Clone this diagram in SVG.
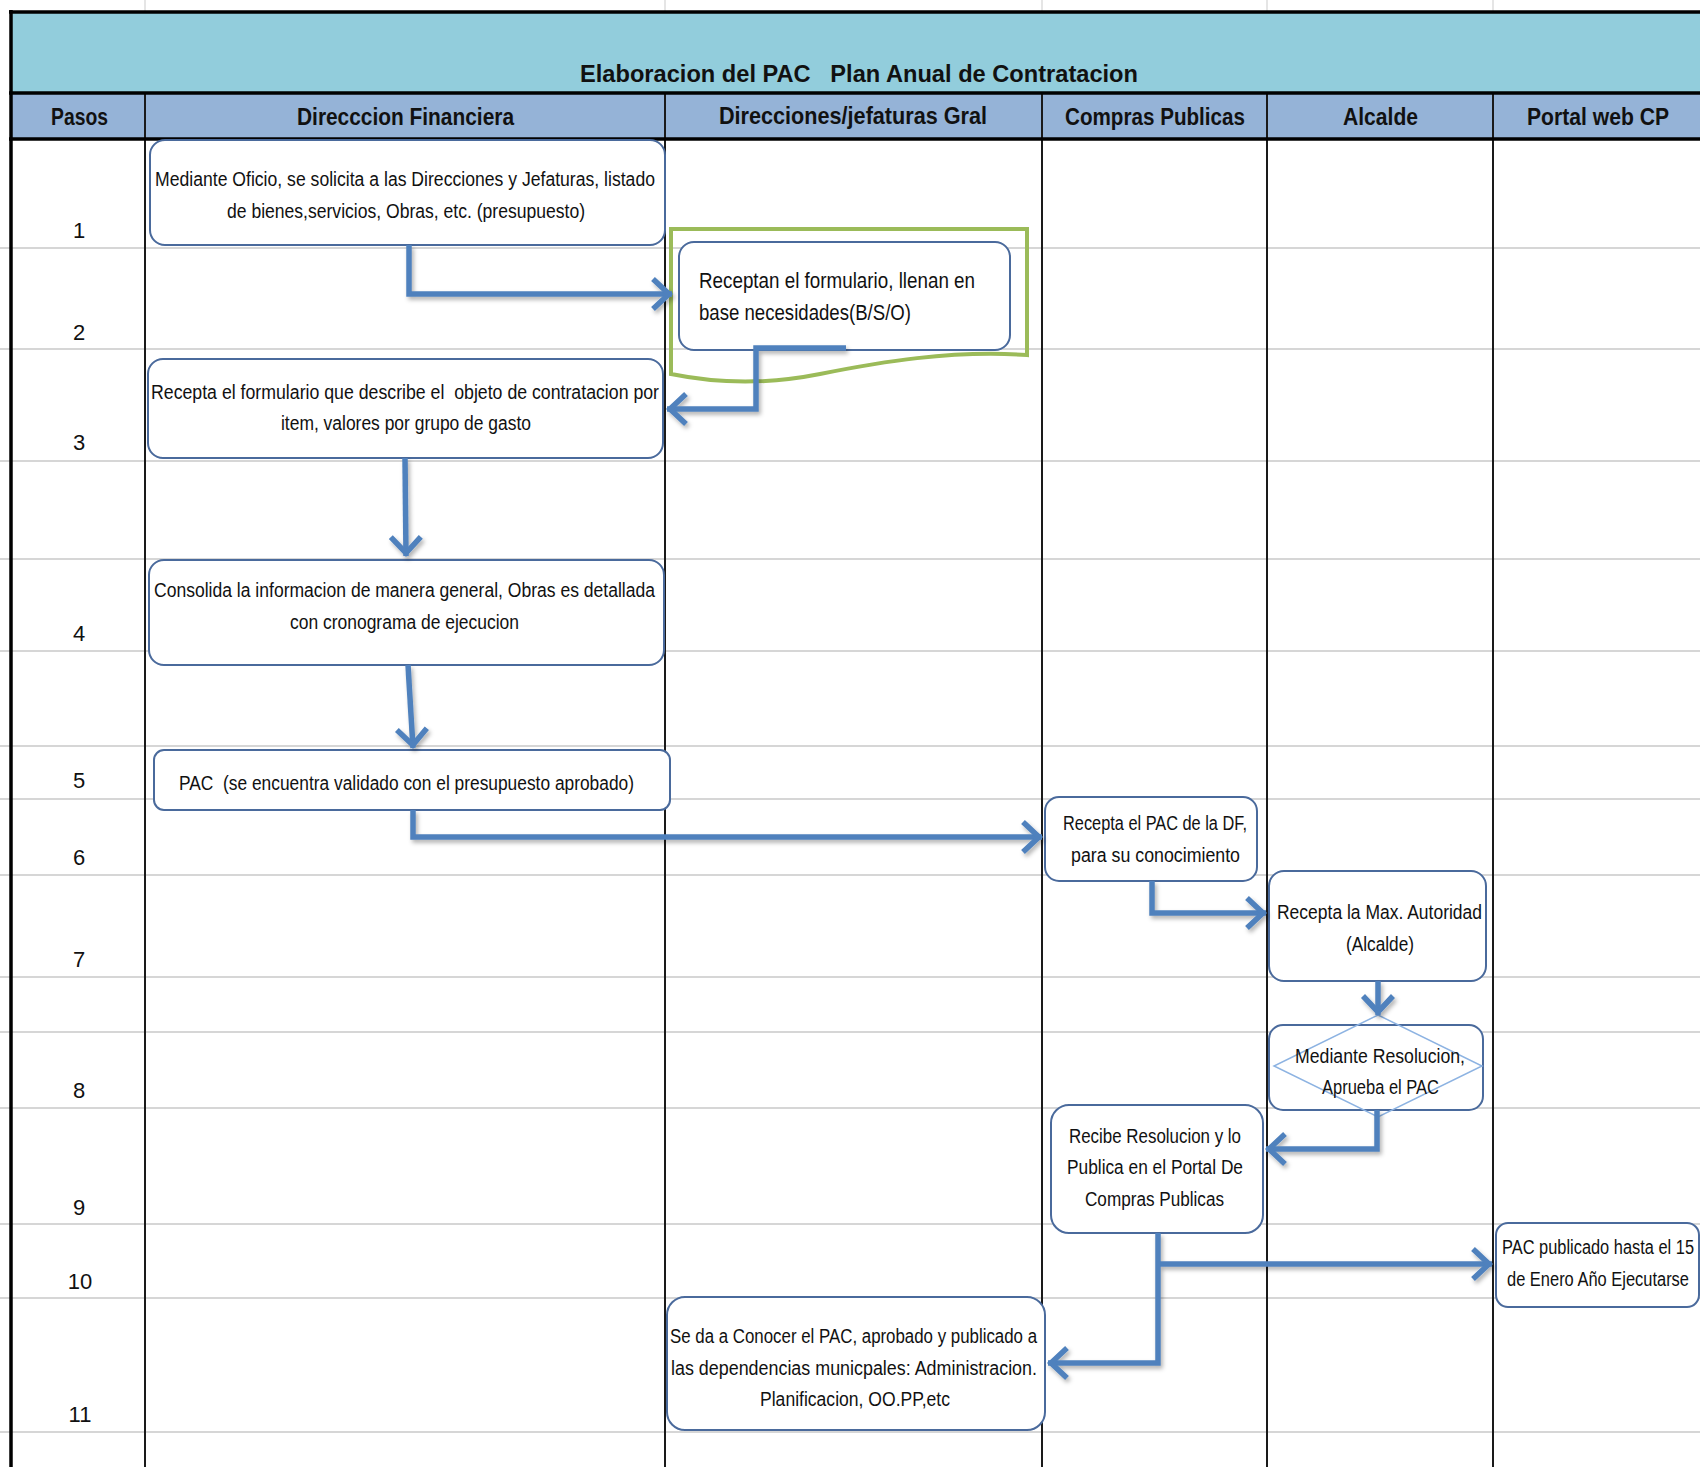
<svg xmlns="http://www.w3.org/2000/svg" width="1700" height="1467" viewBox="0 0 1700 1467">
<style>
.grid{stroke:#D6D6D6;stroke-width:2}
.vgrid{stroke:#DDDDDD;stroke-width:1.5}
.col{stroke:#1a1a1a;stroke-width:2}
.thick{stroke:#000;stroke-width:3.5}
.hdr{font-family:"Liberation Sans",Arial,sans-serif;font-weight:bold;font-size:24px;fill:#111;text-anchor:middle}
.num{font-family:"Liberation Sans",Arial,sans-serif;font-size:22px;fill:#111;text-anchor:middle}
.box{fill:#fff;stroke:#4A6A9C;stroke-width:2}
.t{font-family:"Liberation Sans",Arial,sans-serif;font-size:20px;fill:#111;text-anchor:middle}
.tl{font-family:"Liberation Sans",Arial,sans-serif;font-size:22px;fill:#111}
.conn{fill:none;stroke:#4F81BD;stroke-width:5.5;stroke-linejoin:miter}
</style>
<defs>
<marker id="ah" markerUnits="userSpaceOnUse" viewBox="-24 -20 30 40" refX="3" refY="0" markerWidth="30" markerHeight="40" orient="auto" overflow="visible">
<path d="M-16,-15 L0,0 L-16,15" fill="none" stroke="#4F81BD" stroke-width="5.5" stroke-linejoin="miter"/>
</marker>
<filter id="sh" x="-10%" y="-10%" width="130%" height="130%">
<feDropShadow dx="2" dy="3" stdDeviation="2" flood-color="#000" flood-opacity="0.3"/>
</filter>
</defs>
<rect x="0" y="0" width="1700" height="1467" fill="#fff"/>
<g id="gridlines">
<line class="vgrid" x1="145" y1="0" x2="145" y2="12"/>
<line class="vgrid" x1="665" y1="0" x2="665" y2="12"/>
<line class="vgrid" x1="1042" y1="0" x2="1042" y2="12"/>
<line class="vgrid" x1="1267" y1="0" x2="1267" y2="12"/>
<line class="vgrid" x1="1493" y1="0" x2="1493" y2="12"/>
<line class="grid" x1="0" y1="248" x2="1700" y2="248"/>
<line class="grid" x1="0" y1="349" x2="1700" y2="349"/>
<line class="grid" x1="0" y1="461" x2="1700" y2="461"/>
<line class="grid" x1="0" y1="559" x2="1700" y2="559"/>
<line class="grid" x1="0" y1="651" x2="1700" y2="651"/>
<line class="grid" x1="0" y1="746" x2="1700" y2="746"/>
<line class="grid" x1="0" y1="799" x2="1700" y2="799"/>
<line class="grid" x1="0" y1="875" x2="1700" y2="875"/>
<line class="grid" x1="0" y1="977" x2="1700" y2="977"/>
<line class="grid" x1="0" y1="1032" x2="1700" y2="1032"/>
<line class="grid" x1="0" y1="1108" x2="1700" y2="1108"/>
<line class="grid" x1="0" y1="1224" x2="1700" y2="1224"/>
<line class="grid" x1="0" y1="1298" x2="1700" y2="1298"/>
<line class="grid" x1="0" y1="1432" x2="1700" y2="1432"/>
</g>
<g id="table">
<rect x="11" y="12" width="1689" height="81" fill="#92CDDC"/>
<rect x="11" y="93" width="1689" height="46" fill="#95B3D7"/>
<line class="col" x1="145" y1="93" x2="145" y2="1467"/>
<line class="col" x1="665" y1="93" x2="665" y2="1467"/>
<line class="col" x1="1042" y1="93" x2="1042" y2="1467"/>
<line class="col" x1="1267" y1="93" x2="1267" y2="1467"/>
<line class="col" x1="1493" y1="93" x2="1493" y2="1467"/>
<line class="thick" x1="9" y1="12" x2="1700" y2="12"/>
<line class="thick" x1="9" y1="93" x2="1700" y2="93"/>
<line class="thick" x1="9" y1="139" x2="1700" y2="139"/>
<line class="thick" x1="11" y1="10" x2="11" y2="1467"/>
<text class="hdr" x="859" y="82" textLength="558" lengthAdjust="spacingAndGlyphs" xml:space="preserve">Elaboracion del PAC   Plan Anual de Contratacion</text>
<text class="hdr" x="79.5" y="125" textLength="57" lengthAdjust="spacingAndGlyphs">Pasos</text>
<text class="hdr" x="405.5" y="125" textLength="217" lengthAdjust="spacingAndGlyphs">Direcccion Financiera</text>
<text class="hdr" x="853" y="124" textLength="268" lengthAdjust="spacingAndGlyphs">Direcciones/jefaturas Gral</text>
<text class="hdr" x="1155" y="125" textLength="180" lengthAdjust="spacingAndGlyphs">Compras Publicas</text>
<text class="hdr" x="1380.5" y="125" textLength="75" lengthAdjust="spacingAndGlyphs">Alcalde</text>
<text class="hdr" x="1598" y="125" textLength="142" lengthAdjust="spacingAndGlyphs">Portal web CP</text>
<text class="num" x="79" y="238">1</text>
<text class="num" x="79" y="340">2</text>
<text class="num" x="79" y="450">3</text>
<text class="num" x="79" y="641">4</text>
<text class="num" x="79" y="788">5</text>
<text class="num" x="79" y="865">6</text>
<text class="num" x="79" y="967">7</text>
<text class="num" x="79" y="1098">8</text>
<text class="num" x="79" y="1215">9</text>
<text class="num" x="80" y="1289">10</text>
<text class="num" x="80" y="1422">11</text>
</g>
<g id="node1">
<rect class="box" x="150" y="140" width="515" height="105" rx="15"/>
<text class="t" x="405" y="186" textLength="500" lengthAdjust="spacingAndGlyphs">Mediante Oficio, se solicita a las Direcciones y Jefaturas, listado</text>
<text class="t" x="406" y="218" textLength="358" lengthAdjust="spacingAndGlyphs">de bienes,servicios, Obras, etc. (presupuesto)</text>
</g>
<g id="node2">
<path d="M671,229 H1027 V355 C950,350 880,362 820,374 C770,384 720,384 671,374 Z" fill="none" stroke="#9BBB59" stroke-width="4"/>
<rect class="box" x="679" y="242" width="331" height="108" rx="15"/>
<text class="tl" x="699" y="288" textLength="276" lengthAdjust="spacingAndGlyphs">Receptan el formulario, llenan en</text>
<text class="tl" x="699" y="320" textLength="212" lengthAdjust="spacingAndGlyphs">base necesidades(B/S/O)</text>
</g>
<g id="node3">
<rect class="box" x="148" y="359" width="515" height="99" rx="15"/>
<text class="t" x="405" y="399" textLength="508" lengthAdjust="spacingAndGlyphs" xml:space="preserve">Recepta el formulario que describe el  objeto de contratacion por</text>
<text class="t" x="406" y="430" textLength="250" lengthAdjust="spacingAndGlyphs">item, valores por grupo de gasto</text>
</g>
<g id="node4">
<rect class="box" x="149" y="560" width="515" height="105" rx="15"/>
<text class="t" x="404.5" y="597" textLength="501" lengthAdjust="spacingAndGlyphs">Consolida la informacion de manera general, Obras es detallada</text>
<text class="t" x="404.5" y="629" textLength="229" lengthAdjust="spacingAndGlyphs">con cronograma de ejecucion</text>
</g>
<g id="node5">
<rect class="box" x="154" y="750" width="516" height="60" rx="10"/>
<text class="t" x="406.5" y="790" textLength="455" lengthAdjust="spacingAndGlyphs" xml:space="preserve">PAC  (se encuentra validado con el presupuesto aprobado)</text>
</g>
<g id="node6">
<rect class="box" x="1045" y="797" width="212" height="84" rx="14"/>
<text class="t" x="1155" y="830" textLength="184" lengthAdjust="spacingAndGlyphs">Recepta el PAC de la DF,</text>
<text class="t" x="1155.5" y="862" textLength="169" lengthAdjust="spacingAndGlyphs">para su conocimiento</text>
</g>
<g id="node7">
<rect class="box" x="1269" y="871" width="217" height="110" rx="15"/>
<text class="t" x="1379.5" y="919" textLength="205" lengthAdjust="spacingAndGlyphs">Recepta la Max. Autoridad</text>
<text class="t" x="1380" y="951" textLength="68" lengthAdjust="spacingAndGlyphs">(Alcalde)</text>
</g>
<g id="node8">
<rect class="box" x="1269" y="1025" width="214" height="85" rx="14"/>
<path d="M1378,1015 L1482,1066 L1378,1117 L1274,1066 Z" fill="none" stroke="#8DB3E2" stroke-width="1.5"/>
<text class="t" x="1380" y="1063" textLength="170" lengthAdjust="spacingAndGlyphs">Mediante Resolucion,</text>
<text class="t" x="1380.5" y="1094" textLength="117" lengthAdjust="spacingAndGlyphs">Aprueba el PAC</text>
</g>
<g id="node9">
<rect class="box" x="1051" y="1105" width="212" height="128" rx="18"/>
<text class="t" x="1155" y="1143" textLength="172" lengthAdjust="spacingAndGlyphs">Recibe Resolucion y lo</text>
<text class="t" x="1155" y="1174" textLength="176" lengthAdjust="spacingAndGlyphs">Publica en el Portal De</text>
<text class="t" x="1154.5" y="1206" textLength="139" lengthAdjust="spacingAndGlyphs">Compras Publicas</text>
</g>
<g id="node10">
<rect class="box" x="1496" y="1223" width="203" height="84" rx="12"/>
<text class="t" x="1598" y="1254" textLength="192" lengthAdjust="spacingAndGlyphs">PAC publicado hasta el 15</text>
<text class="t" x="1598" y="1286" textLength="182" lengthAdjust="spacingAndGlyphs">de Enero Año Ejecutarse</text>
</g>
<g id="node11">
<rect class="box" x="667" y="1297" width="378" height="133" rx="18"/>
<text class="t" x="853.5" y="1343" textLength="367" lengthAdjust="spacingAndGlyphs">Se da a Conocer el PAC, aprobado y publicado a</text>
<text class="t" x="854" y="1375" textLength="366" lengthAdjust="spacingAndGlyphs">las dependencias municpales: Administracion.</text>
<text class="t" x="855" y="1406" textLength="190" lengthAdjust="spacingAndGlyphs">Planificacion, OO.PP,etc</text>
</g>
<g id="connectors" filter="url(#sh)">
<path class="conn" d="M409,245 V294 H672" marker-end="url(#ah)"/>
<path class="conn" d="M846,348 H756 V409 H667" marker-end="url(#ah)"/>
<path class="conn" d="M405,458 L406,556" marker-end="url(#ah)"/>
<path class="conn" d="M408,665 L413,748" marker-end="url(#ah)"/>
<path class="conn" d="M413,810 V837 H1042" marker-end="url(#ah)"/>
<path class="conn" d="M1152,881 V913 H1266" marker-end="url(#ah)"/>
<path class="conn" d="M1378,981 V1015" marker-end="url(#ah)"/>
<path class="conn" d="M1377,1110 V1149 H1266" marker-end="url(#ah)"/>
<path class="conn" d="M1158,1264 H1492" marker-end="url(#ah)"/>
<path class="conn" d="M1158,1233 V1363 H1048" marker-end="url(#ah)"/>
</g>
</svg>
